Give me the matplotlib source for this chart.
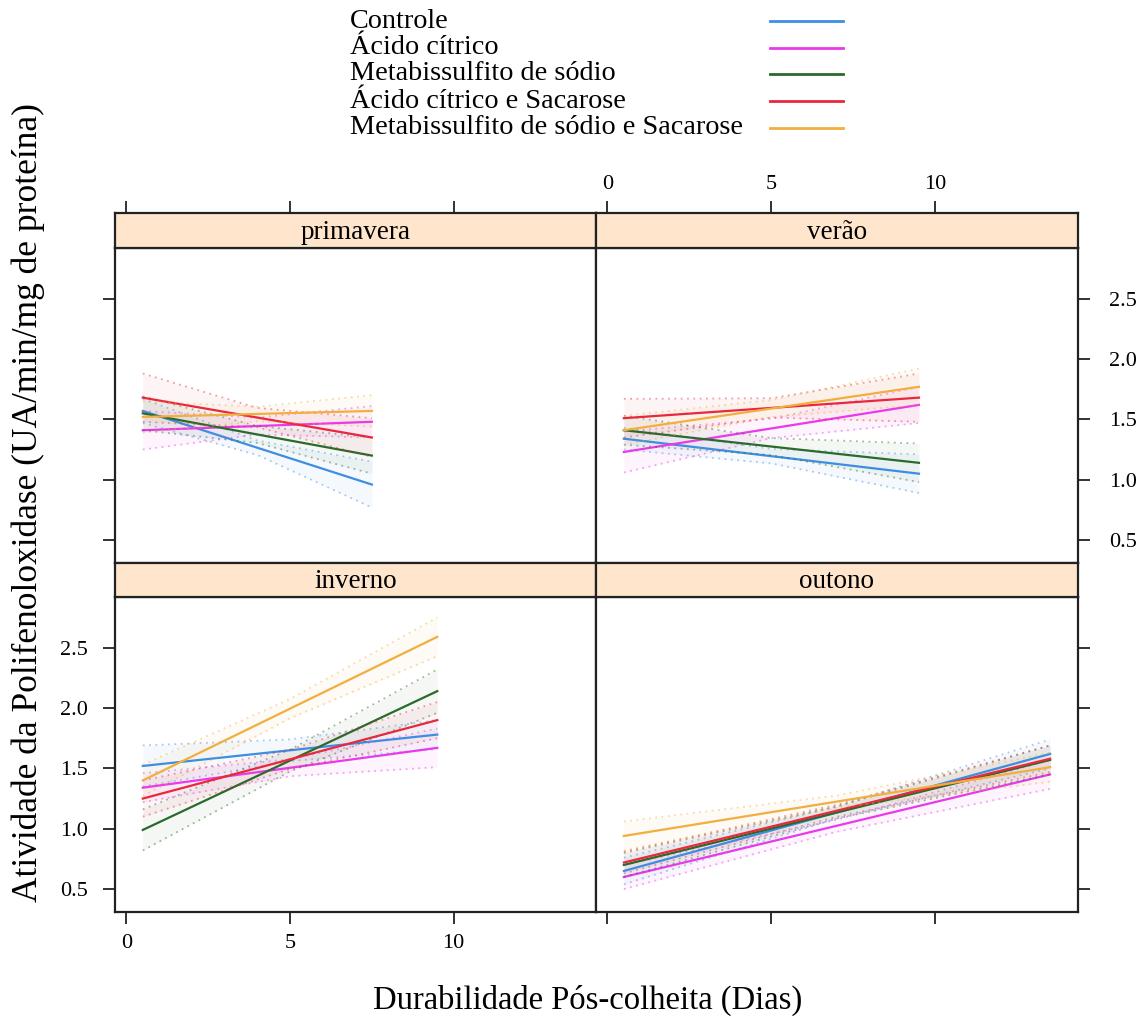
import numpy as np
import matplotlib
matplotlib.use("Agg")
import matplotlib.pyplot as plt
from matplotlib.lines import Line2D

plt.rcParams['font.family'] = ['Liberation Serif', 'DejaVu Serif']

treatments = ['Controle', 'Ácido cítrico', 'Metabissulfito de sódio',
              'Ácido cítrico e Sacarose', 'Metabissulfito de sódio e Sacarose']
colors = ['#3d8ee0', '#e83ae8', '#2a6a2a', '#e8283c', '#f2ae3e']

seasons = ['primavera', 'verão', 'inverno', 'outono']

# day range of each fitted line, per season
x_start = [0.5, 0.5, 0.5, 0.5]
x_end = [7.5, 9.5, 9.5, 13.5]

# fitted values at start / end of each line (rows: season, cols: treatment)
fit_start = [
    [1.57, 1.41, 1.55, 1.68, 1.52],
    [1.34, 1.23, 1.41, 1.51, 1.41],
    [1.52, 1.34, 0.99, 1.25, 1.40],
    [0.65, 0.60, 0.70, 0.72, 0.94],
]
fit_end = [
    [0.96, 1.48, 1.20, 1.35, 1.57],
    [1.05, 1.62, 1.14, 1.68, 1.77],
    [1.78, 1.67, 2.14, 1.90, 2.59],
    [1.62, 1.45, 1.57, 1.58, 1.51],
]

# confidence band half widths at start / middle / end
hw_start = [
    [0.10, 0.16, 0.14, 0.20, 0.13],
    [0.09, 0.17, 0.12, 0.16, 0.12],
    [0.17, 0.12, 0.17, 0.15, 0.13],
    [0.11, 0.10, 0.10, 0.09, 0.12],
]
hw_mid = [
    [0.06, 0.07, 0.07, 0.08, 0.06],
    [0.06, 0.08, 0.07, 0.08, 0.07],
    [0.09, 0.07, 0.09, 0.08, 0.08],
    [0.05, 0.05, 0.05, 0.05, 0.05],
]
hw_end = [
    [0.19, 0.13, 0.15, 0.16, 0.13],
    [0.16, 0.15, 0.16, 0.20, 0.15],
    [0.12, 0.16, 0.18, 0.15, 0.16],
    [0.12, 0.12, 0.12, 0.11, 0.12],
]

x_ticks = [0, 5, 10]
y_ticks = [0.5, 1.0, 1.5, 2.0, 2.5]
y_ticklabels = ['0.5', '1.0', '1.5', '2.0', '2.5']

W, H = 1141, 1025
fig = plt.figure(figsize=(W / 100, H / 100), dpi=100)

def fx(px):
    return px / W

def fy(py):
    return 1 - py / H

# panel geometry (pixels): columns and rows
cols = [(115, 596), (596, 1078)]
rows = [(213, 248, 563), (563, 597, 912)]  # strip top, panel top, panel bottom

xlim = (-0.35, 14.35)
ylim = (0.31, 2.92)
tick_len = 8.5
lab_size = 16

for i, season in enumerate(seasons):
    r, c = divmod(i, 2)
    x0, x1 = cols[c]
    st, pt, pb = rows[r]
    ax = fig.add_axes([fx(x0), fy(pb), fx(x1 - x0), (pb - pt) / H])
    sax = fig.add_axes([fx(x0), fy(pt), fx(x1 - x0), (pt - st) / H])

    # strip
    sax.set_facecolor('#ffe5cc')
    sax.set_xlim(xlim)
    sax.set_yticks([])
    sax.text(0.5, 0.45, season, ha='center', va='center', fontsize=19.5,
             transform=sax.transAxes)
    for sp in sax.spines.values():
        sp.set_linewidth(1.6)
        sp.set_color('#222222')

    # panel
    ax.set_xlim(xlim)
    ax.set_ylim(ylim)
    for sp in ax.spines.values():
        sp.set_linewidth(1.6)
        sp.set_color('#222222')

    xs = np.array([x_start[i], (x_start[i] + x_end[i]) / 2, x_end[i]])
    for j in range(len(treatments)):
        y0, y1 = fit_start[i][j], fit_end[i][j]
        fit = np.array([y0, (y0 + y1) / 2, y1])
        hw = np.array([hw_start[i][j], hw_mid[i][j], hw_end[i][j]])
        lo, hi = fit - hw, fit + hw
        ax.fill_between(xs, lo, hi, color=colors[j], alpha=0.05, lw=0)
        ax.plot(xs, lo, color=colors[j], lw=1.3, alpha=0.45, ls=(0, (1, 2.5)))
        ax.plot(xs, hi, color=colors[j], lw=1.3, alpha=0.45, ls=(0, (1, 2.5)))
        ax.plot([x_start[i], x_end[i]], [y0, y1], color=colors[j], lw=1.6)

    ax.set_xticks(x_ticks)
    ax.set_yticks(y_ticks)
    ax.set_yticklabels(y_ticklabels)
    ax.tick_params(direction='out', length=tick_len, width=1.3, labelsize=lab_size,
                   color='#222222')
    sax.tick_params(direction='out', length=tick_len, width=1.3, labelsize=lab_size,
                    color='#222222')

    if r == 0:
        ax.tick_params(axis='x', bottom=False, top=False, labelbottom=False)
        sax.set_xticks(x_ticks)
        sax.tick_params(axis='x', bottom=False, top=True, labelbottom=False,
                        labeltop=(c == 1), pad=5)
    else:
        sax.set_xticks([])
        ax.tick_params(axis='x', bottom=True, top=False, labelbottom=(c == 0), pad=7)
    if c == 0:
        ax.tick_params(axis='y', left=True, right=False, labelleft=(r == 1), pad=11)
    else:
        ax.tick_params(axis='y', left=False, right=True, labelleft=False,
                       labelright=(r == 0), pad=14)

# legend
leg_y = [21, 48, 74, 101, 128]
for j, name in enumerate(treatments):
    fig.text(fx(350), fy(leg_y[j]), name, ha='left', va='center', fontsize=20.3)
    fig.add_artist(Line2D([fx(770), fx(843)], [fy(leg_y[j]), fy(leg_y[j])],
                          color=colors[j], lw=2, transform=fig.transFigure))

fig.text(fx(28), fy(503), 'Atividade da Polifenoloxidase (UA/min/mg de proteína)',
         rotation=90, ha='center', va='center', fontsize=25.5)
fig.text(fx(588), fy(1000), 'Durabilidade Pós-colheita (Dias)',
         ha='center', va='center', fontsize=23.5)

fig.savefig('out.png', dpi=100, facecolor='white')
